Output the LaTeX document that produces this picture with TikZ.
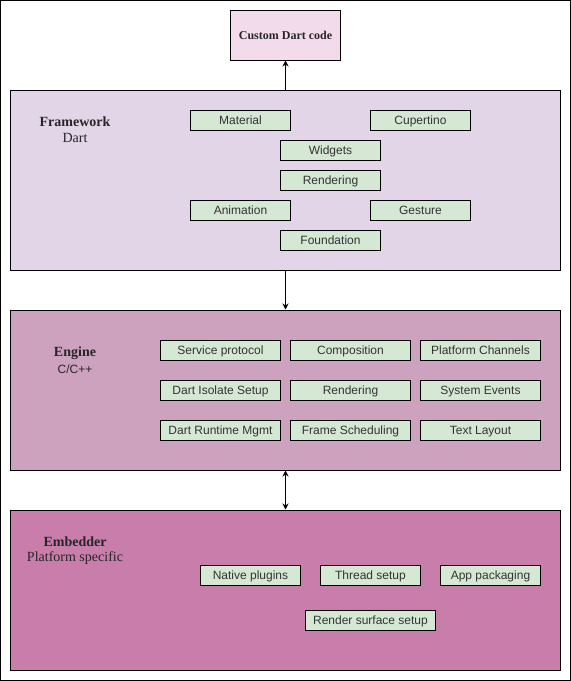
\documentclass[tikz,border=0pt]{standalone}
\usepackage{fontspec}
\setmainfont{Liberation Serif}
\setsansfont{Liberation Sans}
\usetikzlibrary{arrows.meta}
\definecolor{topfill}{HTML}{F2DCEB}
\definecolor{fwfill}{HTML}{E1D5E7}
\definecolor{engfill}{HTML}{CDA2BE}
\definecolor{embfill}{HTML}{C87DAB}
\definecolor{itemfill}{HTML}{D5E8D4}
\definecolor{itemtext}{HTML}{333333}
\begin{document}
\begin{tikzpicture}[x=1pt,y=-1pt,
  layer/.style={draw=black, line width=1pt},
  item/.style={draw=black, line width=1pt, fill=itemfill, text=itemtext,
    font=\sffamily\fontsize{12}{14}\selectfont, inner sep=0pt, anchor=north west,
    text height=8pt, text depth=0pt},
  title/.style={font=\rmfamily\bfseries\fontsize{14}{16}\selectfont, text=black!85},
  sub/.style={font=\rmfamily\fontsize{14}{16}\selectfont, text=black!85},
  subsans/.style={font=\sffamily\fontsize{12}{14}\selectfont, text=black!85},
  link/.style={line width=1pt, -{Stealth[length=6pt,width=6pt]}},
  dlink/.style={line width=1pt, {Stealth[length=6pt,width=6pt]}-{Stealth[length=6pt,width=6pt]}}]
\useasboundingbox (0,0) rectangle (571,681);
\draw[line width=1pt] (0.5,0.5) rectangle (570.5,680.5);

% top box
\node[draw=black, line width=1pt, fill=topfill, minimum width=110pt, minimum height=50pt,
  inner sep=0pt, font=\rmfamily\bfseries\fontsize{12}{14}\selectfont, text=black!85]
  (custom) at (285.5,35) {Custom Dart code};

% framework layer
\node[layer, fill=fwfill, minimum width=550pt, minimum height=180pt, inner sep=0pt]
  (fw) at (285.5,180) {};
\node[title] (fwt) at (75,122) {Framework};
\node[sub] (fws) at (75,138) {Dart};
\node[item, minimum width=100pt, minimum height=20pt] (material) at (190,110) {Material};
\node[item, minimum width=100pt, minimum height=20pt] (cupertino) at (370,110) {Cupertino};
\node[item, minimum width=100pt, minimum height=20pt] (widgets) at (280,140) {Widgets};
\node[item, minimum width=100pt, minimum height=20pt] (frender) at (280,170) {Rendering};
\node[item, minimum width=100pt, minimum height=20pt] (animation) at (190,200) {Animation};
\node[item, minimum width=100pt, minimum height=20pt] (gesture) at (370,200) {Gesture};
\node[item, minimum width=100pt, minimum height=20pt] (foundation) at (280,230) {Foundation};

% engine layer
\node[layer, fill=engfill, minimum width=550pt, minimum height=160pt, inner sep=0pt]
  (eng) at (285.5,390) {};
\node[title] (engt) at (75,353) {Engine};
\node[subsans] (engs) at (75,369) {C/C++};
\node[item, minimum width=120pt, minimum height=20pt] (svc) at (160,340) {Service protocol};
\node[item, minimum width=120pt, minimum height=20pt] (comp) at (290,340) {Composition};
\node[item, minimum width=120pt, minimum height=20pt] (chan) at (420,340) {Platform Channels};
\node[item, minimum width=120pt, minimum height=20pt] (iso) at (160,380) {Dart Isolate Setup};
\node[item, minimum width=120pt, minimum height=20pt] (erender) at (290,380) {Rendering};
\node[item, minimum width=120pt, minimum height=20pt] (sysev) at (420,380) {System Events};
\node[item, minimum width=120pt, minimum height=20pt] (rt) at (160,420) {Dart Runtime Mgmt};
\node[item, minimum width=120pt, minimum height=20pt] (frame) at (290,420) {Frame Scheduling};
\node[item, minimum width=120pt, minimum height=20pt] (text) at (420,420) {Text Layout};

% embedder layer
\node[layer, fill=embfill, minimum width=550pt, minimum height=160pt, inner sep=0pt]
  (emb) at (285.5,590) {};
\node[title] (embt) at (75,542) {Embedder};
\node[sub] (embs) at (75,558) {Platform specific};
\node[item, minimum width=100pt, minimum height=20pt] (native) at (200,565) {Native plugins};
\node[item, minimum width=100pt, minimum height=20pt] (thread) at (320,565) {Thread setup};
\node[item, minimum width=100pt, minimum height=20pt] (pack) at (440,565) {App packaging};
\node[item, minimum width=130pt, minimum height=20pt] (surface) at (305,610) {Render surface setup};

% connectors between layers
\draw[link] (fw.north) -- (custom.south);
\draw[link] (fw.south) -- (eng.north);
\draw[dlink] (eng.south) -- (emb.north);
\end{tikzpicture}
\end{document}
